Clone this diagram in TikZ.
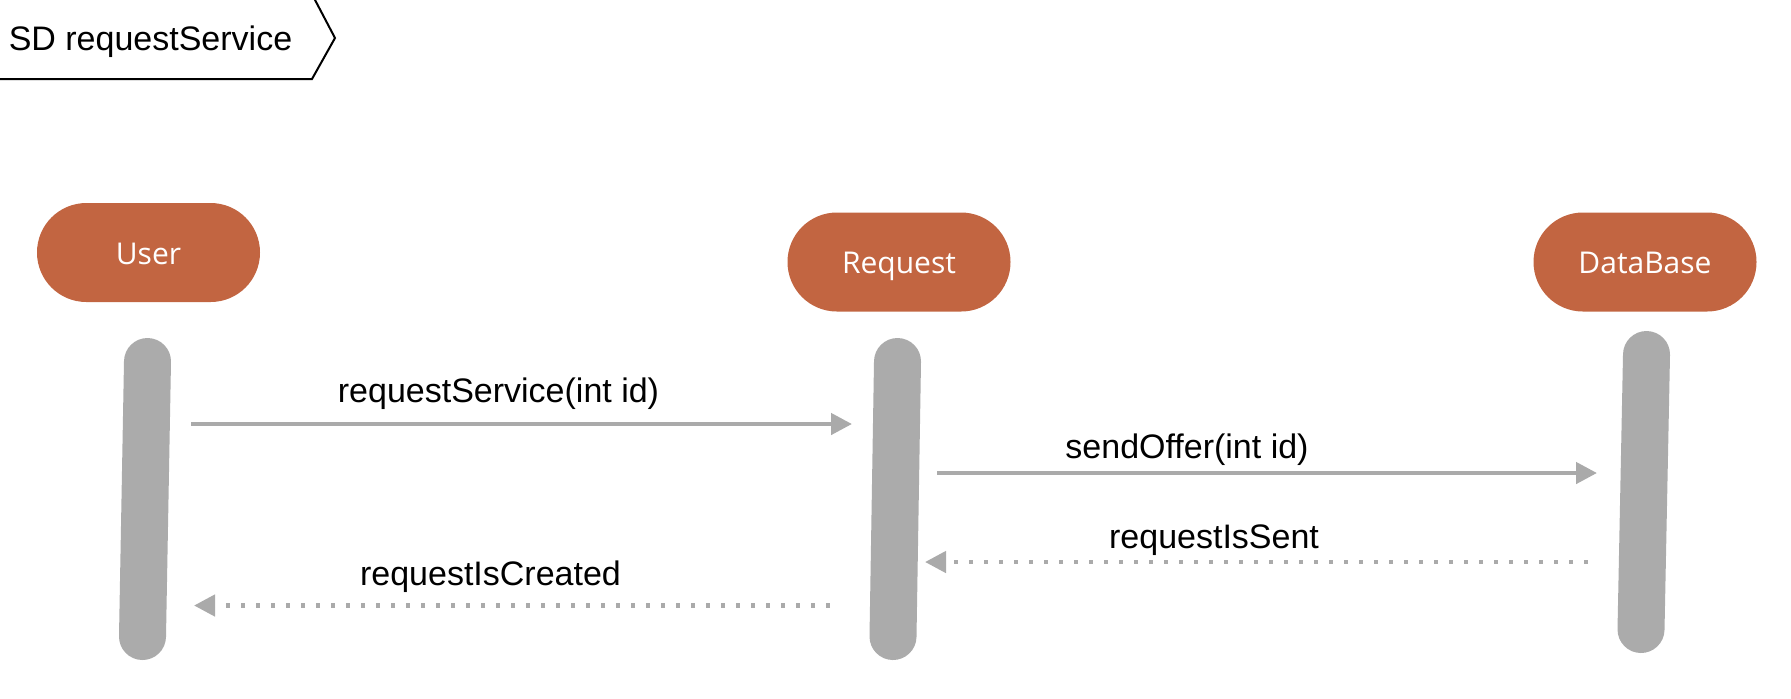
\documentclass[tikz,border=0pt]{standalone}
\usepackage{fontspec}
\setmainfont{Liberation Sans}
\newfontfamily\actorfont{Open Sans}
\usetikzlibrary{arrows.meta}
\definecolor{actorfill}{RGB}{194,101,65}
\definecolor{bargray}{RGB}{171,171,171}
\definecolor{msggray}{RGB}{170,170,170}
\begin{document}
\begin{tikzpicture}[x=0.5pt,y=-0.5pt,
  actor/.style={fill=actorfill, draw=none, rounded corners=24.7pt,
    minimum width=111.5pt, minimum height=49.5pt, inner sep=0pt,
    text height=12pt, text depth=0.5pt,
    text=white, font=\actorfont\fontsize{15}{18}\selectfont},
  lifebar/.style={draw=bargray, line width=23.5pt, line cap=round},
  msg/.style={draw=msggray, line width=2.25pt,
    -{Triangle[length=10.5pt,width=10.5pt]}},
  reply/.style={msg, dash pattern=on 2pt off 5.5pt},
  msglabel/.style={anchor=base, inner sep=0pt, font=\fontsize{17}{20}\selectfont},
  framebox/.style={draw=black, line width=1pt, line join=miter}]
\useasboundingbox (0,0) rectangle (1791,698);
% frame tab
\draw[framebox] (-5,79) -- (312,79) -- (335,38) -- (314,-2);
\node[msglabel] (frame) at (150.5,50) {SD requestService};
% actors
\node[actor] (user) at (148.5,252.5) {User};
\node[actor] (request) at (899,262) {Request};
\node[actor] (db) at (1645,262) {DataBase};
% lifelines
\coordinate (userTop) at (147.5,361.5);
\coordinate (userBot) at (142.5,636.5);
\coordinate (reqTop) at (897.5,361.5);
\coordinate (reqBot) at (893,636.5);
\coordinate (dbTop) at (1646.5,354.5);
\coordinate (dbBot) at (1641,629.5);
\draw[lifebar] (userTop) -- (userBot);
\draw[lifebar] (reqTop) -- (reqBot);
\draw[lifebar] (dbTop) -- (dbBot);
% messages
\coordinate (m1s) at (191,424);
\coordinate (m1e) at (852,424);
\coordinate (m2s) at (937,473);
\coordinate (m2e) at (1597,473);
\coordinate (m3s) at (1588,562);
\coordinate (m3e) at (925,562);
\coordinate (m4s) at (830,605.5);
\coordinate (m4e) at (194,605.5);
\draw[msg] (m1s) -- (m1e);
\draw[msg] (m2s) -- (m2e);
\draw[reply] (m3s) -- (m3e);
\draw[reply] (m4s) -- (m4e);
\node[msglabel] (l1) at (498.5,402) {requestService(int id)};
\node[msglabel] (l2) at (1187,458) {sendOffer(int id)};
\node[msglabel] (l3) at (1214,548) {requestIsSent};
\node[msglabel] (l4) at (490.5,585) {requestIsCreated};
\end{tikzpicture}
\end{document}
